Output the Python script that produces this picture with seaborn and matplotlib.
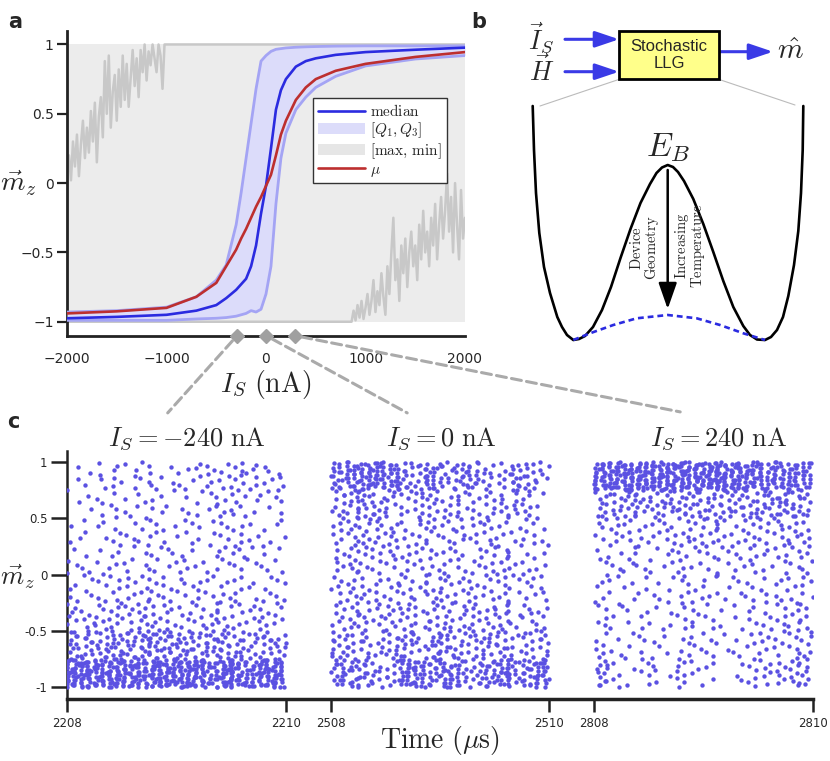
import numpy as np
import matplotlib
matplotlib.use("Agg")
import matplotlib.pyplot as plt
import seaborn as sns
from matplotlib.patches import Rectangle, FancyArrowPatch, ConnectionPatch, Patch
from matplotlib.lines import Line2D

sns.set_theme(style="white")
plt.rcParams["font.family"] = ["DejaVu Sans"]
plt.rcParams["mathtext.fontset"] = "cm"
plt.rcParams["axes.unicode_minus"] = True

################################################
# Panel a data
################################################
I_GRID = [-2000, -1500, -1000, -700, -500, -400, -300, -250, -200, -150, -100, -50,
          0, 50, 100, 150, 200, 300, 400, 500, 700, 1000, 1500, 2000]
MEDIAN = [-0.975, -0.965, -0.95, -0.92, -0.88, -0.83, -0.77, -0.73, -0.69, -0.60, -0.45, -0.22,
          -0.02, 0.25, 0.53, 0.67, 0.75, 0.84, 0.88, 0.90, 0.925, 0.945, 0.962, 0.977]
MEAN = [-0.94, -0.925, -0.90, -0.82, -0.72, -0.60, -0.48, -0.40, -0.33, -0.25, -0.17, -0.10,
        -0.02, 0.06, 0.20, 0.35, 0.45, 0.60, 0.69, 0.75, 0.81, 0.86, 0.91, 0.945]
Q1 = [-0.99, -0.99, -0.99, -0.98, -0.975, -0.97, -0.96, -0.95, -0.94, -0.92, -0.93, -0.91,
      -0.80, -0.60, -0.15, 0.18, 0.36, 0.53, 0.62, 0.69, 0.77, 0.845, 0.895, 0.92]
Q3 = [-0.93, -0.92, -0.895, -0.82, -0.70, -0.59, -0.30, -0.07, 0.18, 0.43, 0.68, 0.88,
      0.92, 0.95, 0.965, 0.97, 0.975, 0.98, 0.983, 0.985, 0.988, 0.99, 0.99, 0.99]

# noisy part of the max envelope, I = -2000 .. -1000 every 20 nA
MAX_NOISE = [0.10, 0.20, 0.02, 0.30, 0.12, 0.35, 0.05, 0.28, 0.45, 0.18,
             0.40, 0.22, 0.52, 0.30, 0.58, 0.15, 0.48, 0.62, 0.33, 0.88,
             0.50, 0.92, 0.40, 0.66, 0.78, 0.45, 0.82, 0.55, 0.92, 0.60,
             0.86, 0.55, 0.76, 0.96, 0.70, 0.90, 0.62, 0.96, 0.80, 1.00,
             0.74, 0.95, 0.85, 1.00, 0.90, 0.80, 1.00, 0.92, 0.68, 1.00, 1.00]
# noisy part of the min envelope, I = 860 .. 2000 every 20 nA
MIN_NOISE = [-1.00, -0.92, -0.99, -0.88, -0.97, -0.85, -0.98, -0.90, -0.80, -0.95,
             -0.85, -0.70, -0.93, -0.78, -0.88, -0.65, -0.82, -0.95, -0.60, -0.80,
             -0.50, -0.25, -0.70, -0.55, -0.85, -0.45, -0.65, -0.40, -0.75, -0.50,
             -0.35, -0.60, -0.45, -0.70, -0.30, -0.55, -0.20, -0.50, -0.35, -0.60,
             -0.25, -0.45, -0.15, -0.55, -0.30, -0.10, -0.40, -0.20, 0.07, -0.35,
             -0.10, -0.50, 0.00, -0.30, -0.55, -0.05, -0.40, -0.25]
DIAMOND_I = [-290, 0, 290]

################################################
# Panel c data: point counts per cell (rows: m_z bins bottom->top, cols: 0.125 us)
################################################
SEG_START = [2208, 2508, 2808]
SEG_TITLES = [r"$I_S = -240\ \mathrm{nA}$", r"$I_S = 0\ \mathrm{nA}$", r"$I_S = 240\ \mathrm{nA}$"]
COUNTS_NEG = [
    [38, 34, 30, 34, 32, 26, 34, 34, 32, 36, 24, 34, 30, 22, 34, 28],
    [12, 10, 11, 14, 12, 12, 14, 12, 12, 10, 13, 12, 10, 8, 10, 10],
    [6, 6, 6, 7, 6, 8, 6, 6, 5, 6, 6, 6, 5, 4, 6, 5],
    [4, 4, 4, 5, 5, 4, 5, 5, 4, 5, 4, 5, 5, 3, 4, 4],
    [4, 3, 3, 4, 4, 3, 4, 4, 4, 3, 3, 4, 5, 3, 3, 3],
    [3, 2, 3, 4, 3, 3, 4, 3, 3, 4, 3, 4, 5, 3, 3, 3],
    [2, 2, 3, 4, 3, 4, 4, 2, 3, 3, 4, 4, 6, 4, 3, 3],
    [2, 2, 4, 5, 3, 5, 4, 2, 4, 4, 5, 5, 7, 6, 4, 4],
]
COUNTS_ZERO = [
    [16, 12, 12, 8, 8, 24, 20, 14, 20, 14, 10, 16, 22, 10, 16, 24],
    [10, 9, 8, 6, 10, 11, 6, 12, 11, 8, 8, 10, 10, 6, 8, 8],
    [7, 7, 6, 5, 7, 8, 5, 8, 8, 6, 7, 7, 7, 5, 6, 5],
    [6, 6, 6, 5, 6, 6, 5, 6, 7, 5, 6, 6, 6, 4, 5, 4],
    [6, 6, 6, 6, 6, 5, 5, 6, 5, 5, 5, 6, 5, 4, 5, 3],
    [7, 7, 7, 7, 6, 5, 6, 6, 5, 6, 5, 6, 5, 4, 6, 3],
    [9, 9, 10, 9, 7, 6, 8, 8, 6, 7, 6, 7, 6, 6, 7, 3],
    [16, 20, 24, 24, 22, 12, 10, 16, 10, 14, 14, 8, 6, 14, 10, 6],
]
COUNTS_POS = [
    [12, 4, 2, 5, 3, 1, 7, 4, 3, 0, 3, 5, 6, 6, 7, 8],
    [6, 3, 3, 3, 3, 2, 5, 4, 4, 2, 3, 4, 5, 5, 6, 6],
    [5, 3, 3, 3, 2, 3, 5, 4, 4, 2, 3, 4, 4, 5, 5, 5],
    [4, 3, 3, 3, 3, 3, 5, 4, 4, 3, 3, 4, 4, 4, 5, 5],
    [4, 4, 4, 3, 3, 4, 5, 4, 4, 4, 4, 5, 4, 4, 5, 5],
    [5, 5, 5, 5, 4, 6, 6, 6, 5, 5, 5, 6, 6, 6, 6, 6],
    [9, 9, 9, 9, 8, 10, 10, 10, 9, 9, 10, 10, 11, 10, 11, 10],
    [28, 30, 32, 32, 30, 32, 34, 32, 34, 32, 30, 28, 22, 22, 22, 16],
]
SEG_WIDTH = 2.0
SEG_GAP = 0.41

################################################
# Panel b schematic outlines (pixel coords of the panel)
################################################
WELL_X = [532.7, 534.0, 536.0, 539.3, 544.0, 550.0, 557.3, 562.0, 567.0, 573.3, 579.0,
          585.0, 593.0, 602.0, 611.0, 620.5, 630.5, 640.5, 650.0, 656.5, 662.0, 667.7,
          673.0, 678.0, 684.0, 693.3, 703.3, 713.3, 723.3, 733.3, 743.3, 750.0, 757.0,
          765.0, 771.0, 777.0, 783.0, 788.3, 794.0, 798.3, 801.0, 802.7, 803.3]
WELL_Y = [106.0, 150.0, 193.0, 233.0, 267.0, 293.0, 317.0, 327.0, 335.0, 340.0, 339.0,
          336.0, 327.0, 310.0, 287.0, 258.0, 229.0, 203.0, 184.0, 173.0, 167.5, 165.0,
          167.0, 172.0, 181.0, 199.0, 224.0, 252.0, 281.0, 307.0, 326.0, 335.0, 339.5,
          340.0, 337.0, 330.0, 317.0, 296.0, 265.0, 231.0, 193.0, 150.0, 106.0]
HUMP_X = [573.3, 590.0, 613.3, 636.7, 667.7, 696.7, 720.0, 743.3, 765.0]
HUMP_Y = [340.0, 333.3, 325.0, 318.3, 315.0, 318.3, 325.0, 333.3, 340.0]


def cell_points(counts, t0, k):
  # spread each cell's points over its cell; most of them sit on two
  # streak columns per cell, like the sampled trajectories in the picture
  counts = np.array(counts)
  nrow, ncol = counts.shape
  w = SEG_WIDTH / ncol
  h = 2.0 / nrow
  xs, ys = [], []
  for r in range(nrow):
    for c in range(ncol):
      n = counts[r, c]
      seed = r * 17 + c * 5 + k * 3
      col_a = (seed * 0.618034) % 1 * 0.5
      for j in range(n):
        fx = (j * 0.7548777 + seed * 0.5698403) % 1
        fy = (j * 0.5698403 + seed * 0.7548777) % 1
        if (j * 0.381966 + seed * 0.2) % 1 < 0.6:
          fx = col_a + (0.5 if fx > 0.5 else 0.0) + 0.06 * ((j % 3) - 1)
        xs.append(t0 + c * w + min(max(fx, 0.0), 1.0) * w)
        ys.append(-1 + r * h + fy * h)
  return np.array(xs), np.array(ys)


def to_plot_x(t, k):
  return (t - SEG_START[k]) + k * (SEG_WIDTH + SEG_GAP)


fig = plt.figure(figsize=(8.3, 7.61), dpi=100)
W, H = 830, 761

################################################
# Panel a
################################################
ax_a = fig.add_axes([67 / W, 1 - 335.6 / H, 398 / W, 305 / H])
I_arr = np.array(I_GRID)
ax_a.fill_between(I_arr, -1, 1, color="#ececec", lw=0, zorder=1)

max_I = np.concatenate([np.arange(-2000, -999, 20), [2000]])
max_m = np.concatenate([MAX_NOISE, [1.0]])
min_I = np.concatenate([[-2000], np.arange(860, 2001, 20)])
min_m = np.concatenate([[-1.0], MIN_NOISE])
ax_a.plot(max_I, max_m, color="#c8c8c8", lw=1.8, zorder=2)
ax_a.plot(min_I, min_m, color="#c8c8c8", lw=1.8, zorder=2)

ax_a.fill_between(I_arr, Q1, Q3, color="#dcdcfa", lw=0, zorder=3)
sns.lineplot(x=I_GRID, y=Q1, ax=ax_a, color="#a4a4f4", lw=2.0, zorder=4)
sns.lineplot(x=I_GRID, y=Q3, ax=ax_a, color="#a4a4f4", lw=2.0, zorder=4)
sns.lineplot(x=I_GRID, y=MEDIAN, ax=ax_a, color="#2b2be0", lw=1.9, zorder=5)
sns.lineplot(x=I_GRID, y=MEAN, ax=ax_a, color="#bd2f2f", lw=1.9, zorder=6)

ax_a.plot(DIAMOND_I, [-1.1] * len(DIAMOND_I), ls="none", marker="D", ms=7,
          color="#a0a0a0", clip_on=False, zorder=10)

ax_a.set_xlim(-2000, 2000)
ax_a.set_ylim(-1.1, 1.1)
ax_a.set_xticks([-2000, -1000, 0, 1000, 2000])
ax_a.set_yticks([-1, -0.5, 0, 0.5, 1])
ax_a.set_yticklabels(["\u22121", "\u22120.5", "0", "0.5", "1"])
for s in ["top", "right"]:
  ax_a.spines[s].set_visible(False)
for s in ["left", "bottom"]:
  ax_a.spines[s].set_color("#222222")
  ax_a.spines[s].set_linewidth(2.0)
ax_a.tick_params(axis="y", direction="out", length=7, width=1.6, color="#222222",
                 pad=2.5, labelsize=10, left=True)
ax_a.tick_params(axis="x", length=0, pad=12, labelsize=10)
ax_a.set_xlabel(r"$I_S\ (\mathrm{nA})$", fontsize=20)
ax_a.xaxis.set_label_coords(0.5, -0.16)
ax_a.xaxis.label.set_va("center")
ax_a.set_ylabel(r"$\vec{m}_z$", fontsize=20, rotation=0)
ax_a.yaxis.set_label_coords(-0.123, 0.5)
ax_a.yaxis.label.set_va("center")
ax_a.yaxis.label.set_ha("center")

handles = [
  Line2D([], [], color="#2b2be0", lw=1.9),
  Patch(facecolor="#dcdcfa", edgecolor="none"),
  Patch(facecolor="#e6e6e6", edgecolor="none"),
  Line2D([], [], color="#bd2f2f", lw=1.9),
]
labels = [r"$\mathrm{median}$", r"$[Q_1, Q_3]$", r"$[\max,\, \min]$", r"$\mu$"]
leg = ax_a.legend(handles, labels, loc="upper left", bbox_to_anchor=(0.618, 0.778),
                  borderaxespad=0, fontsize=11, handlelength=3.1, handletextpad=0.35,
                  labelspacing=0.08, borderpad=0.3, fancybox=False, framealpha=1,
                  edgecolor="#333333")
leg.get_frame().set_linewidth(1.0)
leg.set_zorder(20)

################################################
# Panel c
################################################
ax_c = fig.add_axes([67 / W, 1 - 698.6 / H, 746 / W, 248 / H])
point_color = "#5b51e2"
for k, counts in enumerate([COUNTS_NEG, COUNTS_ZERO, COUNTS_POS]):
  t, m = cell_points(counts, SEG_START[k], k)
  sns.scatterplot(x=to_plot_x(t, k), y=m, ax=ax_c, s=10, color=point_color,
                  linewidth=0, zorder=3)

total_w = 3 * SEG_WIDTH + 2 * SEG_GAP
ax_c.set_xlim(0, total_w)
ax_c.set_ylim(-1.1, 1.1)
xt, xl = [], []
for k, t0 in enumerate(SEG_START):
  xt += [to_plot_x(t0, k), to_plot_x(t0 + SEG_WIDTH, k)]
  xl += [str(t0), str(t0 + int(SEG_WIDTH))]
ax_c.set_xticks(xt)
ax_c.set_xticklabels(xl)
ax_c.set_yticks([-1, -0.5, 0, 0.5, 1])
ax_c.set_yticklabels(["-1", "-0.5", "0", "0.5", "1"])
for s in ["top", "right"]:
  ax_c.spines[s].set_visible(False)
ax_c.spines["left"].set_linewidth(1.8)
ax_c.spines["bottom"].set_linewidth(2.5)
for s in ["left", "bottom"]:
  ax_c.spines[s].set_color("#222222")
ax_c.tick_params(axis="x", direction="out", length=9.5, width=1.8, color="#222222",
                 pad=4, labelsize=8.5, bottom=True)
ax_c.tick_params(axis="y", direction="out", length=11.5, width=1.8, color="#222222",
                 pad=2.5, labelsize=8.5, left=True)
ax_c.set_xlabel(r"$\mathrm{Time}\ (\mu\mathrm{s})$", fontsize=20)
ax_c.xaxis.set_label_coords(0.5, -0.167)
ax_c.xaxis.label.set_va("center")
ax_c.set_ylabel(r"$\vec{m}_z$", fontsize=19, rotation=0)
ax_c.yaxis.set_label_coords(-0.067, 0.49)
ax_c.yaxis.label.set_va("center")
ax_c.yaxis.label.set_ha("center")

title_shift = [0.1, 0.01, 0.14]
for k, title in enumerate(SEG_TITLES):
  xc = to_plot_x(SEG_START[k] + SEG_WIDTH / 2 + title_shift[k], k)
  ax_c.text(xc, 1.05, title, transform=ax_c.get_xaxis_transform(),
            ha="center", va="center", fontsize=19)

# dashed connectors from the diamonds in a to the titles in c
ends = [(0.135, 1.152), (0.456, 1.152), (0.822, 1.156)]
for di, end in zip(DIAMOND_I, ends):
  con = ConnectionPatch(xyA=(di, -1.1), coordsA=ax_a.transData,
                        xyB=end, coordsB=ax_c.transAxes,
                        color="#aaaaaa", lw=2.2, ls=(0, (3.3, 1.7)),
                        shrinkA=5, shrinkB=0, zorder=0.5)
  fig.add_artist(con)

################################################
# Panel b schematic
################################################
ax_b = fig.add_axes([480 / W, 1 - 350 / H, 350 / W, 350 / H])
ax_b.set_xlim(480, 830)
ax_b.set_ylim(350, 0)
ax_b.axis("off")

ax_b.plot(WELL_X, WELL_Y, color="black", lw=1.9, solid_capstyle="round",
          solid_joinstyle="round")
ax_b.plot(HUMP_X, HUMP_Y, color="#2b2be0", lw=1.9, ls=(0, (2.2, 1.5)))
ax_b.plot([619.3, 540], [79.3, 106], color="#bbbbbb", lw=0.8)
ax_b.plot([718.7, 795], [79.3, 105], color="#bbbbbb", lw=0.8)

ax_b.add_patch(Rectangle((619.3, 30.7), 99.4, 48.6, facecolor="#ffff8a",
                         edgecolor="black", lw=2.0, zorder=3))
ax_b.text(669, 55, "Stochastic\nLLG", ha="center", va="center", fontsize=12,
          family="Liberation Sans", linespacing=1.15, zorder=4)

arrow_kw = dict(arrowstyle="-|>,head_length=0.8,head_width=0.27", mutation_scale=18,
                color="#3a3ae6", lw=2.2, shrinkA=0, shrinkB=0)
ax_b.add_patch(FancyArrowPatch((565, 39.3), (619, 39.3), **arrow_kw))
ax_b.add_patch(FancyArrowPatch((565, 71.7), (619, 71.7), **arrow_kw))
ax_b.add_patch(FancyArrowPatch((719, 51.7), (773, 51.7), **arrow_kw))
ax_b.add_patch(FancyArrowPatch((667.7, 170), (667.7, 309),
                               arrowstyle="-|>,head_length=0.8,head_width=0.28",
                               mutation_scale=20, color="black", lw=1.8,
                               shrinkA=0, shrinkB=0))

ax_b.text(541.7, 38, r"$\vec{I}_S$", ha="center", va="center", fontsize=19)
ax_b.text(541.7, 71, r"$\vec{H}$", ha="center", va="center", fontsize=19)
ax_b.text(790, 51, r"$\hat{m}$", ha="center", va="center", fontsize=21)
ax_b.text(667.7, 148, r"$E_B$", ha="center", va="center", fontsize=24)
ax_b.text(645, 248, r"$\mathrm{Device}$" + "\n" + r"$\mathrm{Geometry}$", rotation=90,
          ha="center", va="center", fontsize=10.5, linespacing=0.9)
ax_b.text(690, 246, r"$\mathrm{Increasing}$" + "\n" + r"$\mathrm{Temperature}$", rotation=90,
          ha="center", va="center", fontsize=10.5, linespacing=0.9)

################################################
# Panel letters
################################################
fig.text(15 / W, 1 - 22 / H, "a", fontsize=15, fontweight="bold", ha="center", va="center")
fig.text(479 / W, 1 - 22 / H, "b", fontsize=15, fontweight="bold", ha="center", va="center")
fig.text(13 / W, 1 - 422 / H, "c", fontsize=15, fontweight="bold", ha="center", va="center")

fig.savefig("out.png", dpi=100)
